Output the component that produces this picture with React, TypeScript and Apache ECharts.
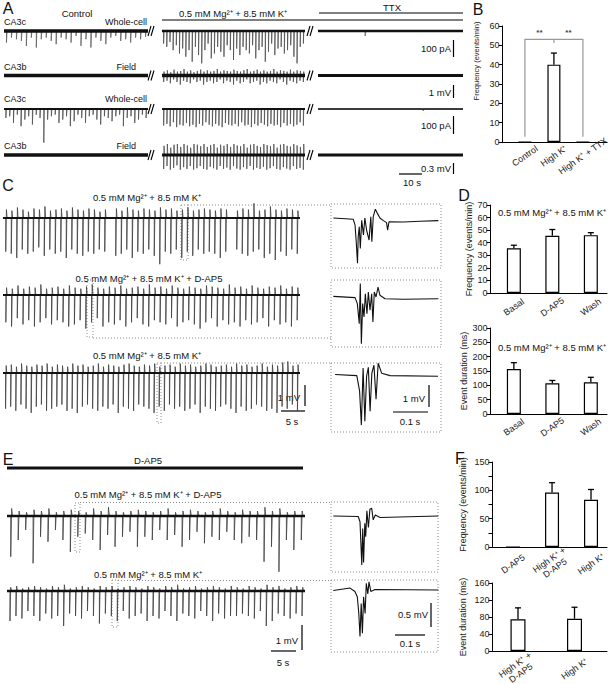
import React, { useEffect, useRef } from "react";
import * as echarts from "echarts";

// ================= DATA =================
const MGK = "0.5 mM Mg²⁺ + 8.5 mM K⁺";

// Panel B
const bCategories = ["Control", "High K⁺", "High K⁺ + TTX"];
const bFreqValues = [0, 40, 0];
const bFreqErrors = [0, 6, 0];
const bSigLabels = ["**", "**"];
const bSigPositions = [[0.5, 56.4], [1.5, 56.4]];
const bBracket = [[0, 1, 2, 2.7, 53.1, 51.2]]; // left, mid, right, bottom, top, midTick

// Panel D
const dCategories = ["Basal", "D-AP5", "Wash"];
const dFreqValues = [35.5, 45.5, 46];
const dFreqErrors = [2.5, 5, 2];
const dDurValues = [157, 107, 111];
const dDurErrors = [22, 10, 17];

// Panel F
const fFreqCategories = ["D-AP5", "High K⁺ +\nD-AP5", "High K⁺"];
const fFreqValues = [0, 96, 83.5];
const fFreqErrors = [0, 17.5, 18];
const fDurCategories = ["High K⁺ +\nD-AP5", "High K⁺"];
const fDurValues = [74.5, 76];
const fDurErrors = [27, 27];

// Panel A traces (event amplitudes; whole-cell in pA, field in mV)
const aRow1Control = [70, 40, 50, 60, 90, 40, 100, 50, 40, 60, 80, 40, 50, 70, 30, 90, 50, 100, 40, 60, 80, 40, 30, 60, 50, 70, 40, 50, 35];
const aRow1HighK = [76, 96, 66, 116, 86, 136, 106, 156, 116, 186, 96, 146, 196, 116, 76, 166, 136, 96, 126, 156, 86, 116, 176, 106, 146, 96, 116, 136, 86, 166, 116, 96, 186, 126, 76, 146, 106, 96, 136, 116, 86, 156, 196, 96, 76];
const aRow1TTX = [0, 0, 0, 0, 0, 0, 30, 0, 0, 0, 0, 0, 0, 0, 0, 0, 0, 0, 0, 0];
const aRow2HighKDown = [0.5, 0.4, 0.6, 0.3, 0.5, 0.7, 0.4, 0.5, 0.6, 0.3, 0.5, 0.4, 0.7, 0.5, 0.4, 0.6, 0.5, 0.3, 0.6, 0.4, 0.5, 0.7, 0.4, 0.6, 0.5, 0.3, 0.6, 0.5, 0.4, 0.7, 0.5, 0.6, 0.4, 0.5, 0.6, 0.3, 0.5, 0.7, 0.4, 0.5, 0.6, 0.4, 0.5];
const aRow2HighKUp = [0.3, 0.4, 0.25, 0.45, 0.3, 0.35, 0.5, 0.3, 0.4, 0.25, 0.35, 0.45, 0.3, 0.4, 0.3, 0.35, 0.5, 0.3, 0.4, 0.35, 0.3, 0.45, 0.35, 0.3, 0.4, 0.5, 0.3, 0.35, 0.45, 0.3, 0.4, 0.3, 0.35, 0.5, 0.3, 0.4, 0.35, 0.3, 0.45, 0.3, 0.4, 0.35, 0.3];
const aRow3Control = [54, 44, 84, 34, 104, 64, 44, 94, 34, 54, 204, 64, 44, 34, 84, 64, 44, 104, 74, 34, 54, 84, 44, 34, 64, 94, 44, 54, 74, 44, 34, 104, 54, 44, 84, 64, 34, 54];
const aRow3HighK = [100, 90, 105, 80, 110, 95, 100, 85, 105, 95, 110, 90, 100, 80, 95, 105, 90, 100, 110, 85, 95, 100, 90, 105, 80, 100, 95, 110, 90, 100, 85, 95, 105, 90, 100, 95, 110, 85, 100, 90, 105, 95, 80, 100];
const aRow3TTX = [0, 0, 0, 0, 0, 0, 0, 0, 0, 0, 0, 0, 0, 0, 12, 0, 0, 0, 0, 0];
const aRow4HighKUp = [0.25, 0.3, 0.2, 0.28, 0.3, 0.22, 0.3, 0.26, 0.2, 0.3, 0.28, 0.24, 0.3, 0.22, 0.27, 0.3, 0.2, 0.28, 0.25, 0.3, 0.22, 0.3, 0.26, 0.24, 0.3, 0.2, 0.28, 0.3, 0.25, 0.22, 0.3, 0.27, 0.24, 0.3, 0.2, 0.28, 0.3, 0.25, 0.23, 0.3, 0.26, 0.22, 0.3];
const aRow4HighKDown = [0.38, 0.3, 0.4, 0.35, 0.28, 0.4, 0.33, 0.38, 0.3, 0.4, 0.36, 0.3, 0.38, 0.4, 0.32, 0.36, 0.4, 0.3, 0.38, 0.34, 0.4, 0.3, 0.37, 0.4, 0.33, 0.38, 0.3, 0.4, 0.35, 0.38, 0.32, 0.4, 0.36, 0.3, 0.38, 0.4, 0.33, 0.37, 0.4, 0.3, 0.38, 0.35, 0.4];

// Panel C traces (mV)
const c1Down = [1.6, 1.7, 1.9, 1.5, 1.7, 1.6, 1.4, 1.8, 1.5, 1.7, 1.6, 1.9, 1.5, 1.7, 1.8, 1.6, 1.7, 1.5, 1.6, 0, 1.8, 1.7, 1.5, 1.9, 1.6, 1.7, 1.5, 1.8, 2.2, 1.6, 1.7, 1.5, 1.9, 1.6, 1.8, 1.5, 1.7, 1.6, 1.7, 1.9, 1.6, 0, 1.5, 1.7, 1.8, 1.6, 1.5, 1.9, 1.7, 2.0, 1.6, 1.8, 1.5, 1.7];
const c1Up = [0.4, 0.35, 0.5, 0.4, 0.3, 0.45, 0.4, 0.55, 0.35, 0.4, 0.45, 0.35, 0.5, 0.4, 0.35, 0.45, 0.4, 0.3, 0.4, 0, 0.45, 0.35, 0.5, 0.4, 0.35, 0.45, 0.4, 0.35, 0.5, 0.4, 0.45, 0.35, 0.4, 0.5, 0.35, 0.4, 0.45, 0.4, 0.35, 0.45, 0.4, 0, 0.35, 0.45, 0.4, 0.7, 0.35, 0.4, 0.55, 0.4, 0.35, 0.45, 0.4, 0.35];
const c2Down = [1.3, 1.5, 1.1, 1.4, 1.2, 1.5, 1.3, 1.1, 1.4, 1.2, 1.3, 1.5, 1.4, 1.2, 1.6, 1.3, 1.1, 1.5, 1.3, 1.4, 1.2, 1.5, 1.3, 1.1, 1.4, 1.5, 1.2, 1.3, 1.4, 1.1, 1.5, 1.3, 1.2, 1.4, 1.6, 1.3, 1.1, 1.5, 1.2, 1.4, 1.3, 1.5, 1.2, 1.4, 1.3, 1.1, 1.5, 1.2, 1.4, 1.3, 1.5, 1.2];
const c2Up = [0.35, 0.3, 0.45, 0.3, 0.4, 0.35, 0.5, 0.3, 0.35, 0.4, 0.3, 0.45, 0.35, 0.3, 0.4, 0.5, 0.35, 0.3, 0.4, 0.35, 0.45, 0.3, 0.35, 0.4, 0.3, 0.5, 0.35, 0.4, 0.3, 0.45, 0.35, 0.3, 0.4, 0.35, 0.3, 0.45, 0.4, 0.35, 0.3, 0.5, 0.35, 0.4, 0.3, 0.45, 0.35, 0.3, 0.4, 0.35, 0.45, 0.3, 0.4, 0.35];
const c3Down = [1.7, 1.6, 1.8, 1.5, 1.7, 1.9, 1.6, 1.5, 1.8, 1.7, 1.6, 1.5, 1.8, 1.7, 1.9, 1.6, 1.5, 1.7, 1.8, 1.6, 1.7, 1.5, 1.9, 1.6, 1.7, 1.8, 1.5, 1.6, 1.7, 1.9, 1.6, 1.8, 1.5, 1.7, 1.6, 1.8, 1.7, 1.5, 1.9, 1.6, 1.7, 1.8, 1.6, 1.5, 1.7, 1.9, 1.6, 1.8, 1.7, 1.5, 1.6, 1.8, 1.7, 1.9, 1.6, 1.7, 1.5, 1.8];
const c3Up = [0.35, 0.4, 0.3, 0.45, 0.35, 0.3, 0.4, 0.35, 0.45, 0.3, 0.4, 0.35, 0.3, 0.45, 0.35, 0.4, 0.3, 0.35, 0.45, 0.3, 0.4, 0.35, 0.3, 0.4, 0.45, 0.35, 0.3, 0.4, 0.35, 0.45, 0.3, 0.35, 0.4, 0.3, 0.45, 0.35, 0.4, 0.3, 0.35, 0.45, 0.4, 0.3, 0.35, 0.4, 0.3, 0.45, 0.35, 0.4, 0.3, 0.35, 0.45, 0.3, 0.4, 0.35, 0.5, 0.55, 0.35, 0.4];

// Panel C insets: [ms, mV]
const cInset1 = [[1, 0], [58, -0.06], [63, -0.32], [66, -1.0], [70, -2.06], [72, -0.85], [75, -0.4], [78, -1.38], [82, -0.1], [87, -0.77], [91, 0], [96, -0.55], [103, -1.0], [108, 0.06], [111, -1.08], [115, 0.06], [121, 0.4], [127, 0.21], [134, 0], [144, -0.12], [153, -0.21], [156, -0.55], [160, -0.17], [201, -0.18], [249, -0.15], [301, -0.12]];
const cInset2 = [[1, 0.03], [63, -0.03], [69.5, -0.3], [75, -1.21], [78, 0.61], [81, -2.12], [84.8, -0.3], [88.6, -0.91], [92.4, 0.15], [97, -0.76], [101, 0.23], [105.7, -0.6], [110.5, 0.15], [114, -1.14], [118, 0.23], [122.9, 0], [128.6, 0.45], [134, 0.08], [148.6, -0.08], [200.9, -0.1], [301, -0.08]];
const cInset3 = [[6, 0], [68, -0.05], [76, -0.76], [81, -2.3], [86, 0.29], [91, -2.12], [96, -0.08], [101, 0.33], [106, -1.67], [111, 0.06], [117, 0.42], [123, -1.12], [129, 0.51], [139, 0.06], [163, -0.05], [300, -0.08]];

// Panel E traces (mV)
const e2Down = [1.63, 0.96, 0.56, 1.89, 0.83, 1.03, 0.56, 0.96, 1.43, 0.83, 0.7, 0.96, 1.36, 0.76, 1.23, 0.83, 0.63, 1.23, 0.83, 0.96, 0.56, 0.96, 0.76, 1.23, 0.96, 0.63, 1.09, 0.83, 0.96, 0.63, 0.96, 1.09, 0.83, 0.96, 1.83, 1.23, 2.23, 0.96, 1.36, 0.96];
const e2Up = [0.3, 0.2, 0.15, 0.25, 0.2, 0.3, 0.15, 0.2, 0.25, 0.2, 0.15, 0.3, 0.2, 0.35, 0.2, 0.15, 0.2, 0.25, 0.2, 0.15, 0.2, 0.3, 0.15, 0.2, 0.25, 0.2, 0.15, 0.2, 0.3, 0.2, 0.15, 0.25, 0.2, 0.2, 0.35, 0.2, 0.3, 0.15, 0.2, 0.2];
const e3Down = [1.2, 1.0, 1.1, 0.8, 1.0, 1.2, 0.9, 1.1, 1.0, 1.4, 0.9, 1.0, 1.1, 0.8, 1.0, 1.3, 0.9, 1.0, 1.2, 0.8, 1.1, 1.0, 0.9, 1.2, 1.0, 1.1, 0.8, 1.0, 1.2, 0.9, 1.0, 1.1, 0.8, 1.0, 1.2, 0.9, 1.1, 1.0, 1.0, 0.9, 1.0, 1.1, 0.8, 1.4, 1.2, 0.9, 1.0, 1.1, 0.9, 1.0];
const e3Up = [0.15, 0.2, 0.1, 0.15, 0.2, 0.15, 0.1, 0.2, 0.15, 0.25, 0.1, 0.15, 0.2, 0.15, 0.1, 0.2, 0.15, 0.2, 0.1, 0.15, 0.2, 0.15, 0.1, 0.2, 0.15, 0.1, 0.2, 0.15, 0.25, 0.1, 0.15, 0.2, 0.1, 0.15, 0.2, 0.15, 0.1, 0.2, 0.15, 0.1, 0.2, 0.15, 0.1, 0.25, 0.15, 0.2, 0.1, 0.15, 0.2, 0.15];

// Panel E insets: [ms, mV]
const eInset1 = [[1, 0], [84, -0.01], [90, -0.12], [93, -0.57], [96, -1.02], [99, -0.26], [102, -0.97], [106, -0.15], [109, -0.43], [113, 0.11], [118, -0.24], [123, 0.14], [129, 0.16], [134, -0.08], [141, 0.02], [157, -0.03], [351, 0]];
const eInset2 = [[1, -0.01], [57, 0.04], [73, -0.03], [81, -0.14], [86, -0.49], [90, -0.97], [94, -0.28], [98, -0.9], [102, -0.14], [107, -0.49], [111, 0.14], [116, -0.08], [120, 0.17], [126, -0.03], [140, 0.01], [351, 0]];

// ================= BUILDERS =================
const FONT = "'Liberation Sans', Arial, Helvetica, sans-serif";
const grids: any[] = [];
const xAxes: any[] = [];
const yAxes: any[] = [];
const series: any[] = [];

function spikeLine(down: number[], up: number[] | null): number[][] {
  const pts: number[][] = [[0, 0]];
  for (let i = 0; i < down.length; i++) {
    const d = down[i] || 0;
    const u = up ? up[i] ?? 0 : 0;
    if (!d && !u) continue;
    const t = i + 0.5;
    pts.push([t, 0], [t, -d], [t + 0.12, u], [t + 0.24, 0]);
  }
  pts.push([Math.max(down.length, 1), 0]);
  return pts;
}

function addGrid(left: number, width: number, baseY: number, pxPerUnit: number, xMax: number) {
  const idx = grids.length;
  const h = 62;
  grids.push({ left, top: baseY - h, width, height: 2 * h, outerBoundsMode: "none", containLabel: false });
  xAxes.push({ type: "value", gridIndex: idx, min: 0, max: xMax, show: false });
  yAxes.push({ type: "value", gridIndex: idx, min: -h / pxPerUnit, max: h / pxPerUnit, show: false });
  return idx;
}

function addTrace(left: number, width: number, baseY: number, pxPerUnit: number, down: number[], up: number[] | null, baseWidth: number, spikeColor = "#4a4a4a") {
  const n = Math.max(down.length, 1);
  const idx = addGrid(left, width, baseY, pxPerUnit, n);
  if (down.length) {
    series.push({
      type: "line", xAxisIndex: idx, yAxisIndex: idx, data: spikeLine(down, up), symbol: "none",
      lineStyle: { width: 0.85, color: spikeColor }, silent: true, z: 2,
    });
  }
  series.push({
    type: "line", xAxisIndex: idx, yAxisIndex: idx, data: [[0, 0], [n, 0]], symbol: "none",
    lineStyle: { width: baseWidth, color: "#111" }, silent: true, z: 3,
  });
}

function addInset(baseY: number, pxPerUnit: number, xMax: number, data: number[][]) {
  const idx = addGrid(333, 105, baseY, pxPerUnit, xMax);
  series.push({
    type: "line", xAxisIndex: idx, yAxisIndex: idx, data, symbol: "none",
    lineStyle: { width: 1.1, color: "#111" }, silent: true, z: 3,
  });
}

function errorBar(params: any, api: any) {
  const x = api.value(0), v = api.value(1), e = api.value(2);
  if (!e) return { type: "group", children: [] };
  const a = api.coord([x, v]);
  const b = api.coord([x, v + e]);
  return {
    type: "group",
    children: [
      { type: "line", shape: { x1: a[0], y1: a[1], x2: b[0], y2: b[1] }, style: { stroke: "#000", lineWidth: 1.3 } },
      { type: "line", shape: { x1: b[0] - 3, y1: b[1], x2: b[0] + 3, y2: b[1] }, style: { stroke: "#000", lineWidth: 1.3 } },
    ],
  };
}

function addBarPanel(p: any) {
  const idx = grids.length;
  grids.push({ left: p.left, top: p.top, width: p.width, height: p.height, outerBoundsMode: "none", containLabel: false });
  xAxes.push({
    type: "value", gridIndex: idx, min: p.xmin, max: p.xmax,
    splitLine: { show: false }, axisTick: { show: false },
    axisLine: { show: true, onZero: false, lineStyle: { color: "#000", width: 1 } },
    axisLabel: {
      customValues: p.cats.map((_: any, i: number) => i),
      formatter: (v: number) => p.cats[Math.round(v)] ?? "",
      rotate: 35, align: "center", verticalAlign: "middle", margin: p.labelMargin,
      fontSize: 9, color: "#222", fontFamily: FONT, lineHeight: 10,
    },
  });
  yAxes.push({
    type: "value", gridIndex: idx, min: 0, max: p.ymax, interval: p.interval,
    splitLine: { show: false },
    axisLine: { show: true, onZero: false, lineStyle: { color: "#000", width: 1 } },
    axisTick: { show: true, length: 3.5, lineStyle: { color: "#000" } },
    axisLabel: { fontSize: 9, color: "#222", margin: 2.5, fontFamily: FONT, formatter: p.labelFormatter },
    name: p.name, nameLocation: "middle", nameRotate: 90, nameGap: p.nameGap,
    nameTextStyle: { fontSize: p.nameSize, color: "#222", fontFamily: FONT, padding: p.namePadding || 0 },
  });
  series.push({
    type: "bar", xAxisIndex: idx, yAxisIndex: idx, data: p.values.map((v: number, i: number) => [i, v]),
    barWidth: p.barWidth, itemStyle: { color: "#fff", borderColor: "#000", borderWidth: 1.2 }, silent: true, z: 2,
  });
  series.push({
    type: "custom", xAxisIndex: idx, yAxisIndex: idx, data: p.values.map((v: number, i: number) => [i, v, p.errors[i]]),
    renderItem: errorBar, clip: false, silent: true, z: 3,
  });
  return idx;
}

// ---- Panel A traces
const segLeft = [4, 162, 318];
const segWidth = [144, 143, 145];
addTrace(segLeft[0], segWidth[0], 31, 0.165, aRow1Control, null, 3.5, "#666");
addTrace(segLeft[1], segWidth[1], 31, 0.165, aRow1HighK, null, 2.6, "#555");
addTrace(segLeft[2], segWidth[2], 31, 0.165, aRow1TTX, null, 2.6, "#666");
addTrace(segLeft[0], segWidth[0], 75.5, 13, [], null, 3.6);
addTrace(segLeft[1], segWidth[1], 75.5, 13, aRow2HighKDown, aRow2HighKUp, 3.4, "#555");
addTrace(segLeft[2], segWidth[2], 75.5, 13, [], null, 3);
addTrace(segLeft[0], segWidth[0], 109, 0.165, aRow3Control, null, 2.2, "#555");
addTrace(segLeft[1], segWidth[1], 109, 0.165, aRow3HighK, null, 2.2, "#555");
addTrace(segLeft[2], segWidth[2], 109, 0.165, aRow3TTX, null, 1.3, "#666");
addTrace(segLeft[0], segWidth[0], 155, 36.7, [], null, 3.4);
addTrace(segLeft[1], segWidth[1], 155, 36.7, aRow4HighKDown, aRow4HighKUp, 3.2, "#555");
addTrace(segLeft[2], segWidth[2], 155, 36.7, [], null, 3);

// ---- Panel C traces
addTrace(3, 297, 218, 21, c1Down, c1Up, 2, "#444");
addTrace(3, 297, 295, 21, c2Down, c2Up, 2, "#444");
addTrace(3, 297, 373, 21, c3Down, c3Up, 2, "#444");
addInset(218, 22, 300, cInset1);
addInset(297, 22, 300, cInset2);
addInset(374.5, 22, 300, cInset3);

// ---- Panel E traces
addTrace(7, 296, 468, 25, [], null, 3);
addTrace(7, 298, 516, 25, e2Down, e2Up, 2.4, "#444");
addTrace(7, 298, 591, 25, e3Down, e3Up, 2.4, "#444");
addInset(516, 48, 350, eInset1);
addInset(590, 48, 350, eInset2);

// ---- Bar panels
const bIdx = addBarPanel({
  left: 502, top: 26, width: 105, height: 116, xmin: -0.79, xmax: 2.83, ymax: 60, interval: 10,
  cats: bCategories, values: bFreqValues, errors: bFreqErrors, barWidth: 13, labelMargin: 14,
  name: "Frequency (events/min)", nameGap: 22, nameSize: 7.5, namePadding: [0, 0, 0, 46],
});
series.push({
  type: "custom", xAxisIndex: bIdx, yAxisIndex: bIdx, data: bBracket, clip: false, silent: true, z: 4,
  renderItem: (params: any, api: any) => {
    const l = api.value(0), m = api.value(1), r = api.value(2), yb = api.value(3), yt = api.value(4), ym = api.value(5);
    const p1 = api.coord([l, yb]), p2 = api.coord([l, yt]), p3 = api.coord([r, yt]), p4 = api.coord([r, yb]);
    const m1 = api.coord([m, yt]), m2 = api.coord([m, ym]);
    return {
      type: "group",
      children: [
        { type: "polyline", shape: { points: [p1, p2, p3, p4] }, style: { stroke: "#999", fill: "none", lineWidth: 1.2 } },
        { type: "line", shape: { x1: m1[0], y1: m1[1], x2: m2[0], y2: m2[1] }, style: { stroke: "#999", lineWidth: 1.2 } },
      ],
    };
  },
});
series.push({
  type: "custom", xAxisIndex: bIdx, yAxisIndex: bIdx, data: bSigPositions, clip: false, silent: true, z: 4,
  renderItem: (params: any, api: any) => {
    const p = api.coord([api.value(0), api.value(1)]);
    return {
      type: "text",
      style: { text: bSigLabels[params.dataIndex], x: p[0], y: p[1], fill: "#444", font: `bold 8px ${FONT}`, align: "center", verticalAlign: "middle", textAlign: "center", textVerticalAlign: "middle" },
    };
  },
});

addBarPanel({
  left: 490, top: 205, width: 117, height: 88, xmin: -0.62, xmax: 2.42, ymax: 70, interval: 10,
  cats: dCategories, values: dFreqValues, errors: dFreqErrors, barWidth: 14, labelMargin: 14,
  name: "Frequency (events/min)", nameGap: 15, nameSize: 9,
});
addBarPanel({
  left: 490, top: 328, width: 117, height: 86, xmin: -0.62, xmax: 2.42, ymax: 300, interval: 50,
  cats: dCategories, values: dDurValues, errors: dDurErrors, barWidth: 14, labelMargin: 13,
  name: "Event duration (ms)", nameGap: 22, nameSize: 9,
});
addBarPanel({
  left: 492, top: 462, width: 115, height: 85, xmin: -0.54, xmax: 2.41, ymax: 150, interval: 25,
  cats: fFreqCategories, values: fFreqValues, errors: fFreqErrors, barWidth: 14, labelMargin: 17,
  name: "Frequency (events/min)", nameGap: 25, nameSize: 9,
  labelFormatter: (v: number) => (v % 50 === 0 ? String(v) : ""),
});
addBarPanel({
  left: 492, top: 583, width: 115, height: 68, xmin: -0.46, xmax: 1.575, ymax: 160, interval: 40,
  cats: fDurCategories, values: fDurValues, errors: fDurErrors, barWidth: 15, labelMargin: 18,
  name: "Event duration (ms)", nameGap: 25, nameSize: 9,
});

// ================= GRAPHIC (labels, scale bars, boxes) =================
function txt(text: string, x: number, y: number, align = "center", size = 9.5, color = "#111") {
  return {
    type: "text", x, y, silent: true,
    style: { text, font: `${size}px ${FONT}`, fill: color, align, verticalAlign: "middle", textAlign: align, textVerticalAlign: "middle" },
  };
}
function ln(x1: number, y1: number, x2: number, y2: number, w = 1.2, color = "#000") {
  return { type: "line", silent: true, shape: { x1, y1, x2, y2 }, style: { stroke: color, lineWidth: w } };
}
function dotRect(x: number, y: number, w: number, h: number) {
  return { type: "rect", silent: true, shape: { x, y, width: w, height: h }, style: { fill: "none", stroke: "#8a8a8a", lineWidth: 1, lineDash: [1, 2] } };
}
function dotLine(x1: number, y1: number, x2: number, y2: number) {
  return { type: "line", silent: true, shape: { x1, y1, x2, y2 }, style: { stroke: "#8a8a8a", lineWidth: 1, lineDash: [1, 2] } };
}

const elements: any[] = [];
// Panel letters
elements.push(txt("A", 8, 8, "center", 16), txt("B", 478, 9, "center", 16), txt("C", 8, 185, "center", 16));
elements.push(txt("D", 464, 195, "center", 16), txt("E", 8, 459, "center", 16), txt("F", 460, 458, "center", 16));

// Panel A labels
elements.push(txt("Control", 77, 13), txt(MGK, 233, 13), txt("TTX", 392, 7));
elements.push(ln(162, 20, 463, 20, 1), ln(319, 13, 463, 13, 1));
const rowLab = [
  ["CA3c", "Whole-cell", 21.5, 147],
  ["CA3b", "Field", 67, 136],
  ["CA3c", "Whole-cell", 99, 147],
  ["CA3b", "Field", 146, 136],
];
rowLab.forEach((r: any) => {
  elements.push(txt(r[0], 4, r[2], "left", 9), txt(r[1], r[3], r[2], "right", 9));
});
[31, 75.5, 109, 155].forEach((y) => {
  [148, 307].forEach((x0) => {
    elements.push({ type: "rect", silent: true, shape: { x: x0 - 1, y: y - 6, width: 9, height: 12 }, style: { fill: "#fff" } });
    elements.push(ln(x0, y + 5, x0 + 3, y - 5, 1.1), ln(x0 + 3, y + 5, x0 + 6, y - 5, 1.1));
  });
});
elements.push(txt("100 pA", 451, 48, "right", 9.5), ln(453.5, 40, 453.5, 57));
elements.push(txt("1 mV", 451, 92, "right", 9.5), ln(453.5, 85, 453.5, 98));
elements.push(txt("100 pA", 451, 125, "right", 9.5), ln(453.5, 116, 453.5, 134));
elements.push(txt("0.3 mV", 451, 168, "right", 9.5), ln(453.5, 163, 453.5, 174));
elements.push(ln(399, 174, 422, 174), txt("10 s", 412, 182, "center", 9.5));

// Panel C labels
elements.push(txt(MGK, 147, 197), txt(MGK + " + D-AP5", 149, 278), txt(MGK, 147, 355));
elements.push(dotRect(331, 204, 110, 64), dotRect(331, 280, 110, 67), dotRect(331, 363, 110, 69));
elements.push(dotRect(181, 205, 7, 55), dotRect(87, 280, 6, 57), dotRect(157, 363, 4, 60));
elements.push(dotLine(188, 205, 331, 205), dotLine(93, 338, 331, 338), dotLine(161, 363, 331, 363));
elements.push(txt("1 mV", 300, 397, "right"), ln(305, 385, 305, 406), ln(281, 411, 305, 411), txt("5 s", 292, 421));
elements.push(txt("1 mV", 425, 398, "right"), ln(429, 385, 429, 407), ln(393, 412, 428, 412), txt("0.1 s", 410, 421));

// Panel E labels
elements.push(txt("D-AP5", 148, 460), txt(MGK + " + D-AP5", 148, 494), txt(MGK, 148, 574));
elements.push(dotRect(331, 502, 107, 70), dotRect(331, 580, 107, 72));
elements.push(dotRect(75, 503, 5, 49), dotRect(112, 580, 6, 47));
elements.push(dotLine(80, 502.5, 331, 502.5), dotLine(118, 580.5, 331, 580.5));
elements.push(txt("1 mV", 298, 640, "right"), ln(302, 625, 302, 650), ln(271, 651, 296, 651), txt("5 s", 283, 662));
elements.push(txt("0.5 mV", 428, 614, "right"), ln(431, 603, 431, 627), ln(395, 635, 425, 635), txt("0.1 s", 410, 643));

// Panel D inner titles
elements.push(txt(MGK, 498, 212, "left", 9.5), txt(MGK, 498, 347, "left", 9.5));

function buildOption() {
  return {
    animation: false,
    backgroundColor: "#fff",
    textStyle: { fontFamily: FONT },
    grid: grids,
    xAxis: xAxes,
    yAxis: yAxes,
    series,
    graphic: { elements },
  };
}

export default function App() {
  const ref = useRef<HTMLDivElement>(null);
  useEffect(() => {
    document.body.style.margin = "0";
    const chart = echarts.init(ref.current as HTMLDivElement, null, { renderer: "svg", width: 610, height: 684 });
    chart.setOption(buildOption() as any);
    return () => chart.dispose();
  }, []);
  return <div ref={ref} style={{ width: 610, height: 684, background: "#fff" }} />;
}
